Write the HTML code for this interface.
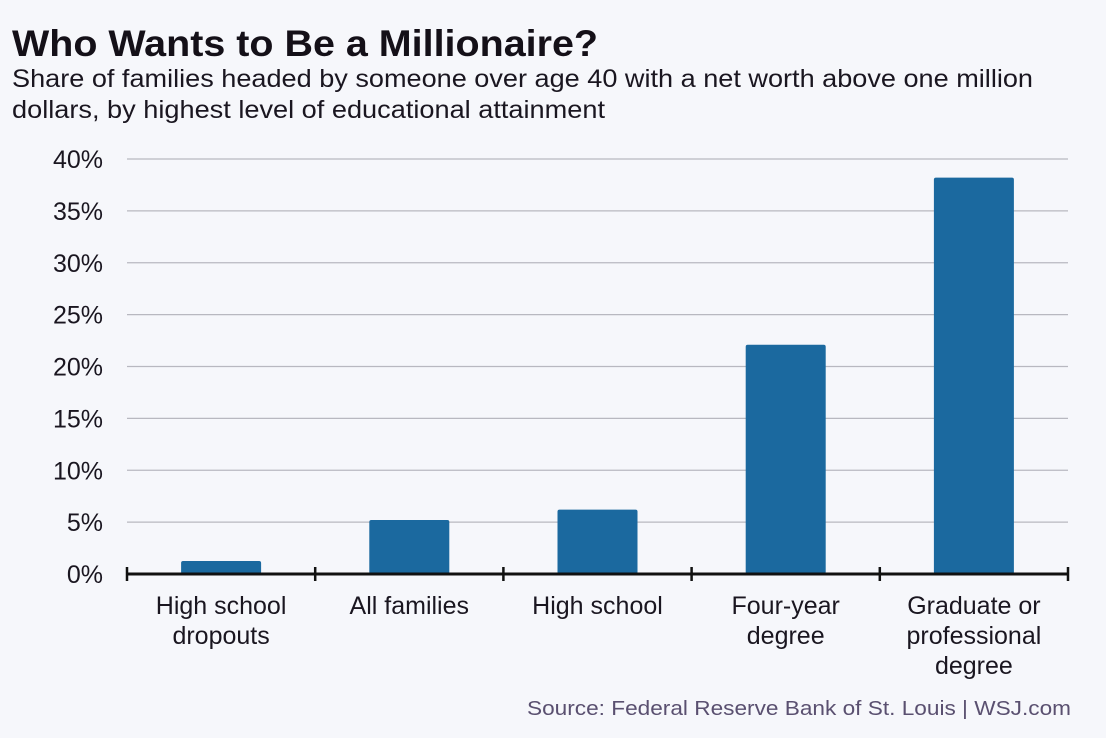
<!DOCTYPE html>
<html><head><meta charset="utf-8"><style>
body{margin:0;background:#f6f7fb;}
svg{display:block;font-family:"Liberation Sans",Arial,sans-serif;}
</style></head><body>
<svg id="chart" width="1106" height="738" viewBox="0 0 1106 738">
<rect width="1106" height="738" fill="#f6f7fb"/>
<text x="12" y="56" font-size="37" font-weight="bold" fill="#141018" textLength="586" lengthAdjust="spacingAndGlyphs">Who Wants to Be a Millionaire?</text>
<text x="12" y="87" font-size="25" fill="#1a1620" textLength="1021" lengthAdjust="spacingAndGlyphs">Share of families headed by someone over age 40 with a net worth above one million</text>
<text x="12" y="118" font-size="25" fill="#1a1620" textLength="593" lengthAdjust="spacingAndGlyphs">dollars, by highest level of educational attainment</text>
<g id="grid"></g><g id="bars"></g><g id="axis"></g>
<text x="1071" y="715" font-size="20" fill="#5a5070" text-anchor="end" textLength="544" lengthAdjust="spacingAndGlyphs">Source: Federal Reserve Bank of St. Louis  |  WSJ.com</text>
</svg>
<script>
const categories=[["High school","dropouts"],["All families"],["High school"],["Four-year","degree"],["Graduate or","professional","degree"]];
const values=[1.25,5.2,6.2,22.1,38.2];
const yTicks=[0,5,10,15,20,25,30,35,40];
const yTickLabels=["0%","5%","10%","15%","20%","25%","30%","35%","40%"];
const NS="http://www.w3.org/2000/svg";
const x0=127,x1=1068,yBase=574,yTop=159,yMax=40;
const y=v=>yBase-(v/yMax)*(yBase-yTop);
const band=(x1-x0)/categories.length;
const xc=i=>x0+band*(i+0.5);
function mk(tag,attrs,parent){const e=document.createElementNS(NS,tag);for(const k in attrs)e.setAttribute(k,attrs[k]);parent.appendChild(e);return e;}
const grid=document.getElementById('grid'),bars=document.getElementById('bars'),axis=document.getElementById('axis');
yTicks.forEach((t,i)=>{
  if(t>0){const l=mk('line',{x1:x0,x2:x1,y1:y(t),y2:y(t),stroke:'#b8b8c0','stroke-width':1.2},grid);
  
  }
  const tx=mk('text',{x:103,y:y(t)+9,'font-size':25,'text-anchor':'end',fill:'#1a1620'},grid);
  tx.textContent=yTickLabels[i];
  
  
});
values.forEach((v,i)=>{
  const r=mk('rect',{x:xc(i)-40,y:y(v),width:80,height:yBase-y(v),fill:'#1b699f',rx:2},bars);
  
  
  categories[i].forEach((s,j)=>{
    const t=mk('text',{x:xc(i),y:614+j*30,'font-size':25,'text-anchor':'middle',fill:'#1a1620'},axis);
    t.textContent=s;
    
    
  });
});
const ax=mk('line',{x1:x0,x2:x1,y1:yBase,y2:yBase,stroke:'#111','stroke-width':3},axis);


for(let i=0;i<=categories.length;i++){
  const tk=mk('line',{x1:x0+band*i,x2:x0+band*i,y1:yBase-7,y2:yBase+7,stroke:'#111','stroke-width':2.5},axis);
  
  
}
</script>
</body></html>
